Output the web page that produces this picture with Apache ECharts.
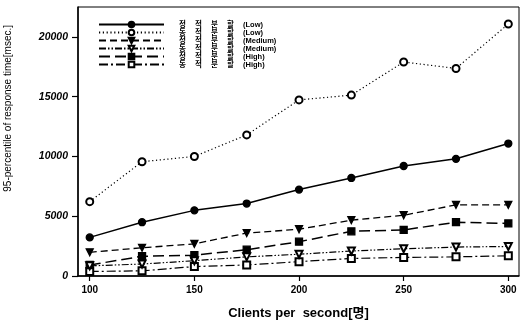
<!DOCTYPE html>
<html>
<head>
<meta charset="utf-8">
<script src="https://cdn.jsdelivr.net/npm/echarts@6/dist/echarts.min.js"></script>
<style>html,body{margin:0;padding:0;background:#fff}#c{width:528px;height:325px}</style>
</head>
<body>
<div id="c"></div>
<script>
// ---- data ----
var clients = [100, 125, 150, 175, 200, 225, 250, 275, 300];
var staticLow     = [3230, 4500, 5490, 6060, 7230, 8200, 9200, 9800, 11080];
var dynamicLow    = [6220, 9560, 10000, 11800, 14730, 15130, 17900, 17360, 21080];
var staticMedium  = [1980, 2360, 2690, 3590, 3910, 4670, 5080, 5950, 5950];
var dynamicMedium = [850, 1000, 1280, 1600, 1820, 2090, 2280, 2420, 2470];
var staticHigh    = [920, 1650, 1740, 2200, 2870, 3740, 3850, 4500, 4400];
var dynamicHigh   = [380, 430, 790, 920, 1200, 1470, 1550, 1600, 1690];
var seriesNames = ['정 적 분 할 (Low)', '동 적 분 할 (Low)', '정 적 분 할 (Medium)', '동 적 분 할 (Medium)', '정 적 분 할 (High)', '동 적 분 할 (High)'];
var xTicks = [100, 150, 200, 250, 300];
var yTicks = [0, 5000, 10000, 15000, 20000];
var xTitle = 'Clients per  second[명]';
var yTitle = '95-percentile of response time[msec.]';

function pairs(vals) { return clients.map(function (c, i) { return [c, vals[i]]; }); }

var styles = [
  { data: staticLow, symbol: 'circle', rot: 0, type: 'solid', w: 1.5, size: 7 },
  { data: dynamicLow, symbol: 'emptyCircle', rot: 0, type: [1.2, 2.6], w: 1.2, size: 7 },
  { data: staticMedium, symbol: 'triangle', rot: 180, type: [7, 4], w: 1.3, size: 7 },
  { data: dynamicMedium, symbol: 'emptyTriangle', rot: 180, type: [7, 2, 1.5, 2, 1.5, 2], w: 1.2, size: 7 },
  { data: staticHigh, symbol: 'rect', rot: 0, type: [11, 5], w: 1.5, size: 7 },
  { data: dynamicHigh, symbol: 'emptyRect', rot: 0, type: [9, 3, 2, 3], w: 1.2, size: 7 }
];

var series = styles.map(function (s, i) {
  return {
    name: seriesNames[i],
    type: 'line',
    data: pairs(s.data),
    symbol: s.symbol,
    symbolRotate: s.rot,
    symbolSize: s.size,
    showAllSymbol: true,
    z: 10 - i,
    lineStyle: { color: '#000', width: s.w, type: s.type },
    itemStyle: { color: '#000', borderColor: '#000', borderWidth: 1.3 },
    emphasis: { disabled: true },
    animation: false
  };
});

function legendFormatter(name) {
  var m = name.match(/^(.*?)\s*(\(.*\))$/);
  var chars = m[1].split(' ');
  return chars.map(function (c) { return '{k|' + c + '}'; }).join('') + '{p|' + m[2] + '}';
}

var chart = echarts.init(document.getElementById('c'), null, { renderer: 'canvas' });
chart.setOption({
  backgroundColor: '#fff',
  animation: false,
  grid: { left: 78, right: 9, top: 7, bottom: 42, show: true, borderColor: '#000', borderWidth: 1, backgroundColor: 'transparent' },
  legend: {
    data: seriesNames,
    orient: 'vertical',
    left: 98,
    top: 20.5,
    padding: 0,
    itemWidth: 65,
    itemHeight: 7,
    itemGap: 0,
    selectedMode: false,
    formatter: legendFormatter,
    textStyle: {
      color: '#000',
      fontSize: 7.5,
      padding: [0, 0, 0, 10],
      lineHeight: 7.9,
      rich: {
        k: { width: 16, fontSize: 7.5, lineHeight: 7.9, fontWeight: 'bold', color: '#000', fontFamily: "'Noto Sans CJK KR', 'Noto Sans CJK SC', sans-serif" },
        p: { fontSize: 7.5, lineHeight: 7.9, fontWeight: 'bold', color: '#000', fontFamily: "'Liberation Sans', sans-serif" }
      }
    }
  },
  xAxis: {
    type: 'value',
    min: 94.4,
    max: 305.1,
    name: xTitle,
    nameLocation: 'middle',
    nameGap: 31,
    nameTextStyle: { fontSize: 13, fontWeight: 'bold', color: '#000', fontFamily: "'Liberation Sans', 'Noto Sans CJK KR', sans-serif" },
    axisLine: { onZero: false, lineStyle: { color: '#000', width: 1.5 } },
    axisTick: { show: true, length: 5, customValues: xTicks, lineStyle: { color: '#000', width: 1.2 } },
    axisLabel: { customValues: xTicks, margin: 9, fontSize: 10, fontWeight: 'bold', color: '#000', fontFamily: "'Liberation Sans', sans-serif", formatter: function (v) { return String(v); } },
    splitLine: { show: false }
  },
  yAxis: {
    type: 'value',
    min: 0,
    max: 22500,
    axisLine: { show: true, lineStyle: { color: '#000', width: 1.5 } },
    axisTick: { show: true, length: 6, customValues: yTicks, lineStyle: { color: '#000', width: 1.2 } },
    axisLabel: { customValues: yTicks, margin: 10, fontSize: 10.5, fontWeight: 'bold', fontStyle: 'italic', color: '#000', fontFamily: "'Liberation Sans', sans-serif", formatter: function (v) { return String(v); } },
    splitLine: { show: false }
  },
  graphic: [{
    type: 'text',
    left: 3,
    top: 25,
    rotation: Math.PI / 2,
    originX: 0, originY: 0,
    style: { text: yTitle, fontSize: 10, fill: '#000', fontFamily: "'Liberation Sans', sans-serif" }
  }],
  series: series
});
</script>
</body>
</html>
